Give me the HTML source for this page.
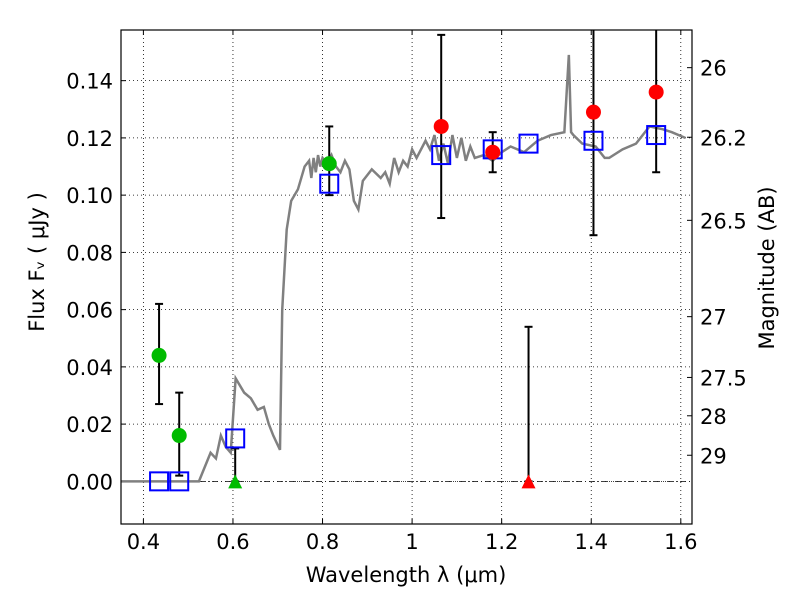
<!DOCTYPE html>
<html><head><meta charset="utf-8"><style>
body{margin:0;background:#fff}
svg{display:block;font-family:"DejaVu Sans","Liberation Sans",sans-serif}
</style></head><body>
<svg id="chart" width="800" height="600" viewBox="0 0 800 600"></svg>
<script>
const specX=[0.35,0.524,0.55,0.562,0.573,0.584,0.595,0.606,0.625,0.64,0.655,0.669,0.68,0.69,0.705,0.71,0.72,0.73,0.745,0.76,0.77,0.775,0.78,0.785,0.79,0.795,0.80,0.81,0.82,0.83,0.84,0.85,0.86,0.87,0.88,0.89,0.9,0.91,0.93,0.94,0.95,0.96,0.97,0.98,0.99,1.0,1.01,1.03,1.04,1.05,1.06,1.07,1.08,1.09,1.1,1.11,1.12,1.13,1.14,1.16,1.18,1.2,1.22,1.25,1.28,1.31,1.34,1.35,1.355,1.36,1.38,1.41,1.43,1.44,1.47,1.5,1.53,1.56,1.58,1.61,1.625];
const specY=[0,0,0.010,0.008,0.016,0.012,0.010,0.036,0.031,0.029,0.025,0.026,0.020,0.016,0.011,0.06,0.088,0.098,0.102,0.110,0.112,0.106,0.113,0.108,0.114,0.110,0.113,0.111,0.114,0.110,0.108,0.112,0.109,0.098,0.095,0.105,0.107,0.109,0.106,0.108,0.104,0.113,0.108,0.112,0.110,0.116,0.113,0.119,0.116,0.121,0.112,0.118,0.111,0.121,0.113,0.120,0.112,0.117,0.113,0.114,0.112,0.115,0.117,0.115,0.119,0.121,0.122,0.149,0.122,0.121,0.118,0.117,0.113,0.113,0.116,0.118,0.124,0.123,0.122,0.120];
const greenX=[0.435,0.48,0.815], greenY=[0.044,0.016,0.111], greenLo=[0.027,0.002,0.100], greenHi=[0.062,0.031,0.124];
const redX=[1.065,1.18,1.405,1.545], redY=[0.124,0.115,0.129,0.136], redLo=[0.092,0.108,0.086,0.108], redHi=[0.156,0.122,0.16,0.16];
const triGX=[0.605], triGHi=[0.0115];
const triRX=[1.26], triRHi=[0.054];
const sqX=[0.435,0.48,0.605,0.815,1.065,1.18,1.26,1.405,1.545], sqY=[0,0,0.015,0.104,0.114,0.116,0.118,0.119,0.121];
const xTicks=[0.4,0.6,0.8,1.0,1.2,1.4,1.6], xTickLabels=["0.4","0.6","0.8","1","1.2","1.4","1.6"];
const yTicks=[0,0.02,0.04,0.06,0.08,0.10,0.12,0.14], yTickLabels=["0.00","0.02","0.04","0.06","0.08","0.10","0.12","0.14"];
const magTicks=[26,26.2,26.5,27,27.5,28,29], magLabels=["26","26.2","26.5","27","27.5","28","29"];

const L=121,R=692,T=30,B=524, X0=0.35,X1=1.625,Y0=-0.0149,Y1=0.1577;
const sx=v=>L+(v-X0)/(X1-X0)*(R-L), sy=v=>B-(v-Y0)/(Y1-Y0)*(B-T);
const svg=document.getElementById('chart'), NS='http://www.w3.org/2000/svg';
function mk(tag,attrs,parent){const e=document.createElementNS(NS,tag);for(const k in attrs)e.setAttribute(k,attrs[k]);(parent||svg).appendChild(e);return e;}
const clip=mk('clipPath',{id:'pc'});mk('rect',{x:L,y:T,width:R-L,height:B-T},clip);
xTicks.forEach((t,i)=>{const g=mk('line',{x1:sx(t),x2:sx(t),y1:T,y2:B,stroke:'#000','stroke-width':0.8,'stroke-dasharray':'1,3'});

mk('line',{x1:sx(t),x2:sx(t),y1:B,y2:B-5,stroke:'#000'});mk('line',{x1:sx(t),x2:sx(t),y1:T,y2:T+5,stroke:'#000'});
const tx=mk('text',{x:sx(t),y:B+25,'font-size':21,'text-anchor':'middle'});tx.textContent=xTickLabels[i];
});
yTicks.forEach((t,i)=>{const g=mk('line',{x1:L,x2:R,y1:sy(t),y2:sy(t),stroke:'#000','stroke-width':0.8,'stroke-dasharray':'1,3'});

mk('line',{x1:L,x2:L+5,y1:sy(t),y2:sy(t),stroke:'#000'});
const tx=mk('text',{x:L-8,y:sy(t)+8,'font-size':21,'text-anchor':'end'});tx.textContent=yTickLabels[i];
});
magTicks.forEach((m,i)=>{const f=Math.pow(10,(23.9-m)/2.5);const y=sy(f);
mk('line',{x1:R,x2:R-5,y1:y,y2:y,stroke:'#000'});
const tx=mk('text',{x:R+8,y:y+8,'font-size':21});tx.textContent=magLabels[i];
});
const zl=mk('line',{x1:L,x2:R,y1:sy(0),y2:sy(0),stroke:'#000','stroke-width':0.8,'stroke-dasharray':'6,3,1,3'});

const sp=mk('polyline',{points:specX.map((x,i)=>sx(x)+','+sy(specY[i])).join(' '),fill:'none',stroke:'#808080','stroke-width':2.5,'clip-path':'url(#pc)'});

function ebar(x,lo,hi){const g=mk('g',{'clip-path':'url(#pc)'});

mk('line',{x1:sx(x),x2:sx(x),y1:sy(lo),y2:sy(hi),stroke:'#000','stroke-width':2},g);
[lo,hi].forEach(v=>mk('line',{x1:sx(x)-4,x2:sx(x)+4,y1:sy(v),y2:sy(v),stroke:'#000','stroke-width':2},g));}
greenX.forEach((x,i)=>ebar(x,greenLo[i],greenHi[i]));
redX.forEach((x,i)=>ebar(x,redLo[i],redHi[i]));
triGX.forEach((x,i)=>ebar(x,0,triGHi[i]));
triRX.forEach((x,i)=>ebar(x,0,triRHi[i]));
sqX.forEach((x,i)=>{const r=mk('rect',{x:sx(x)-9,y:sy(sqY[i])-9,width:18,height:18,fill:'none',stroke:'#0000ff','stroke-width':2});
});
greenX.forEach((x,i)=>{const c=mk('circle',{cx:sx(x),cy:sy(greenY[i]),r:7.5,fill:'#00bb00'});
});
redX.forEach((x,i)=>{const c=mk('circle',{cx:sx(x),cy:sy(redY[i]),r:7.5,fill:'#ff0000'});
});
function tri(x,col,name){const X=sx(x),Y=sy(0);const p=mk('polygon',{points:`${X-7},${Y+7} ${X+7},${Y+7} ${X},${Y-7}`,fill:col});
}
triGX.forEach(x=>tri(x,'#00bb00','green-upper-limit'));
triRX.forEach(x=>tri(x,'#ff0000','red-upper-limit'));
const fr=mk('rect',{x:L,y:T,width:R-L,height:B-T,fill:'none',stroke:'#000','stroke-width':1.2});

let t=mk('text',{x:406,y:582,'font-size':21,'text-anchor':'middle'});t.textContent='Wavelength  λ (μm)';

t=mk('text',{x:0,y:0,'font-size':21,'text-anchor':'middle',transform:'translate(44,262) rotate(-90)'});t.textContent='Flux  F\u1D65  ( μJy )';

t=mk('text',{x:0,y:0,'font-size':21,'text-anchor':'middle',transform:'translate(774,268) rotate(-90)'});t.textContent='Magnitude (AB)';

</script>
</body></html>
